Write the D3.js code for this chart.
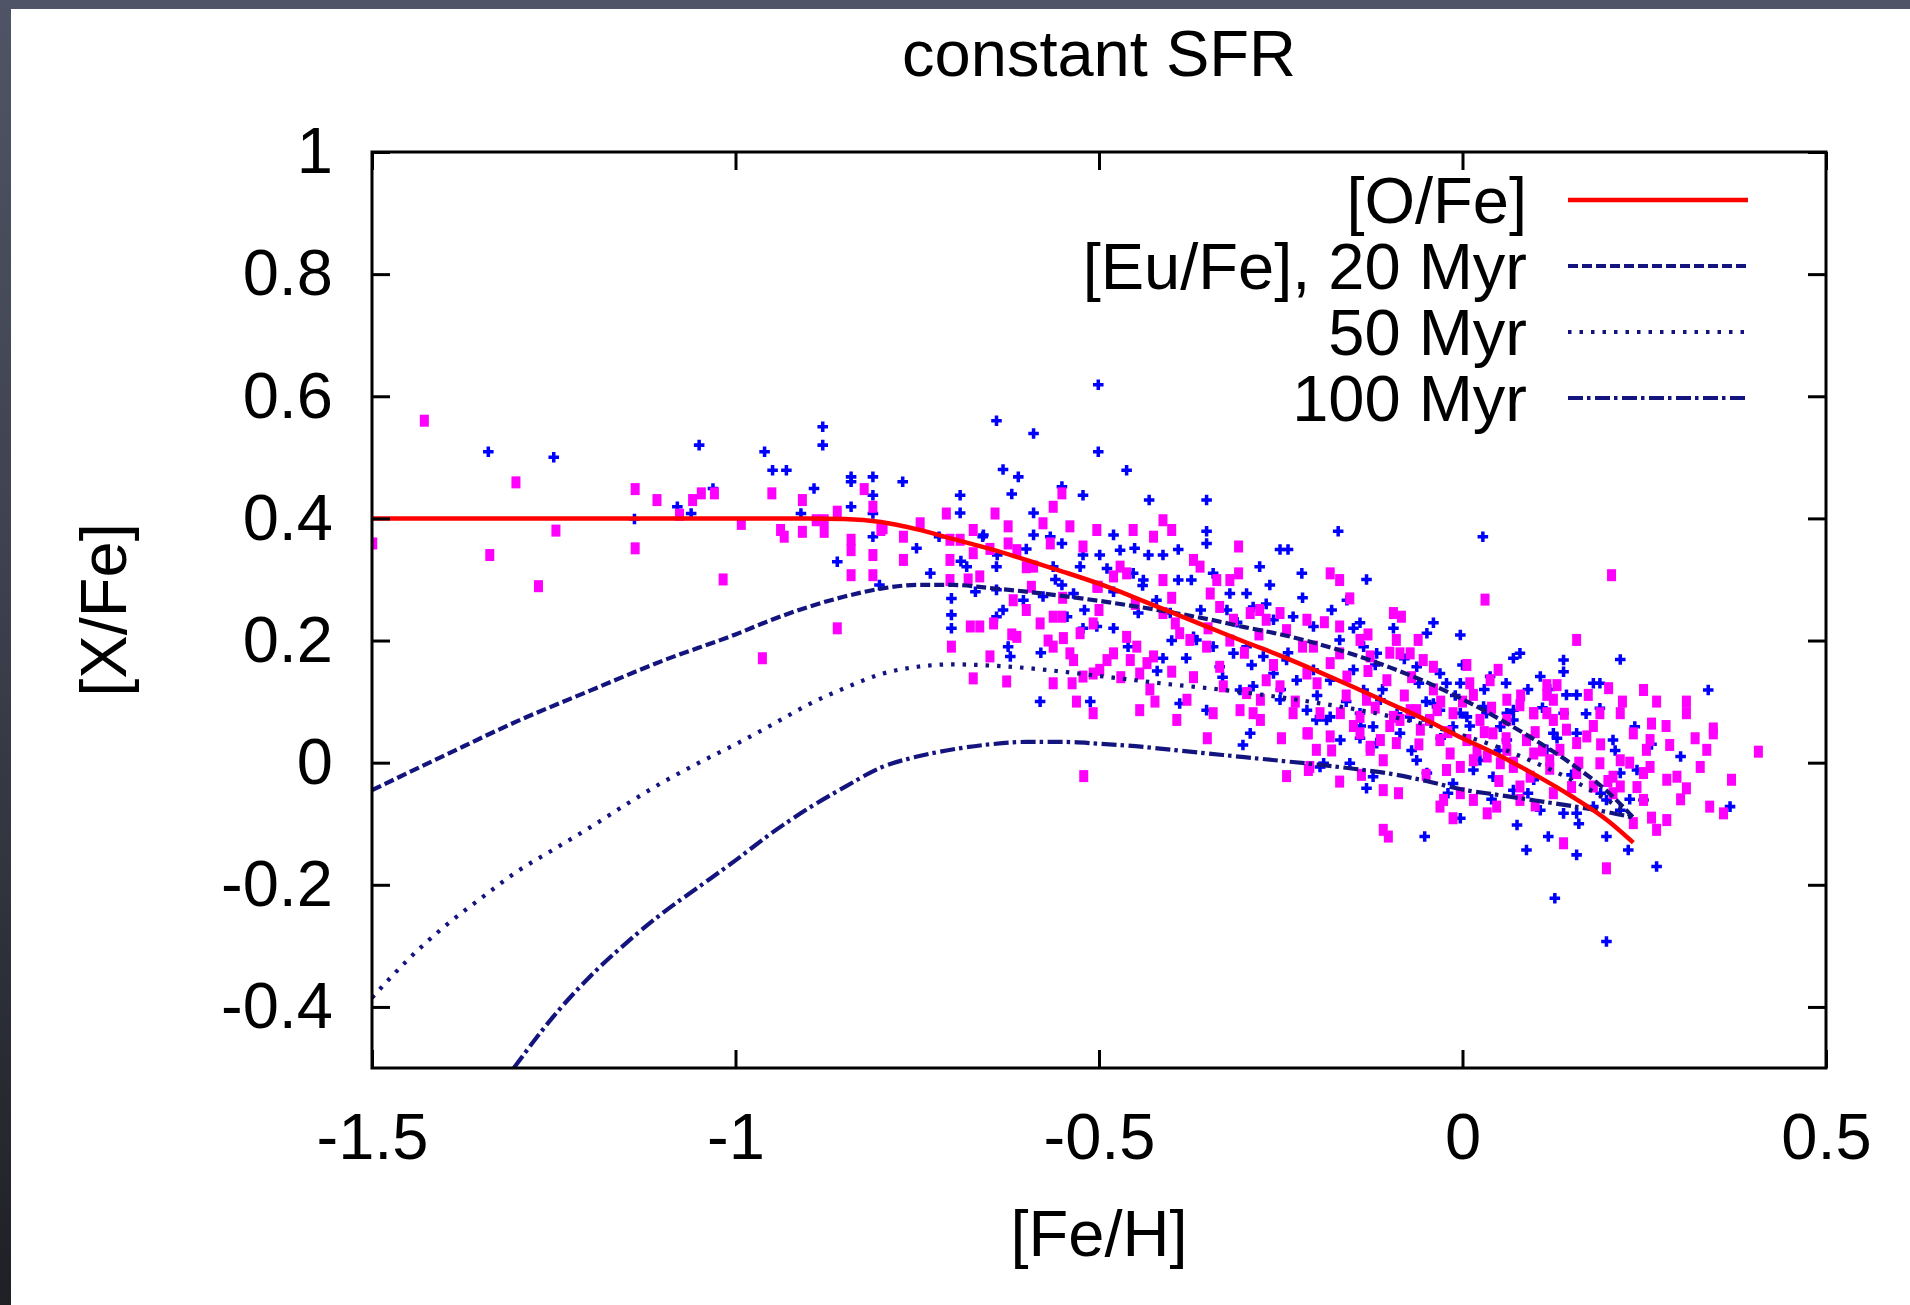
<!DOCTYPE html>
<html>
<head>
<meta charset="utf-8">
<script src="https://cdn.jsdelivr.net/npm/d3@7"></script>
<style>
  html, body { margin: 0; padding: 0; background: #2a2c33; }
  svg { display: block; }
  text { font-family: "Liberation Sans", Arial, Helvetica, sans-serif; fill: #000; }
</style>
</head>
<body>
<svg id="chart" width="1910" height="1305"></svg>
<script>
// ---- model tracks: [Fe/H] grid and [X/Fe] values ----
const oFeX = [-1.5,-1.0,-0.9,-0.85,-0.8,-0.75,-0.7,-0.65,-0.6,-0.55,-0.5,-0.45,-0.4,-0.35,-0.3,-0.25,-0.2,-0.15,-0.1,-0.05,0,0.05,0.1,0.15,0.2,0.235];
const oFeY = [0.40,0.40,0.40,0.399,0.394,0.382,0.366,0.350,0.332,0.313,0.293,0.270,0.246,0.222,0.198,0.175,0.150,0.124,0.097,0.070,0.040,0.012,-0.020,-0.055,-0.095,-0.131];

const eu20X = [-1.5,-1.4,-1.3,-1.2,-1.1,-1.0,-0.95,-0.9,-0.85,-0.8,-0.75,-0.7,-0.65,-0.6,-0.55,-0.5,-0.45,-0.4,-0.35,-0.3,-0.25,-0.2,-0.15,-0.1,-0.05,0,0.05,0.1,0.15,0.2,0.235];
const eu20Y = [-0.045,0.012,0.068,0.118,0.167,0.21,0.234,0.255,0.272,0.285,0.291,0.291,0.286,0.280,0.273,0.265,0.256,0.246,0.235,0.222,0.210,0.195,0.177,0.156,0.132,0.104,0.072,0.037,-0.002,-0.048,-0.090];

const eu50X = [-1.5,-1.45,-1.4,-1.35,-1.3,-1.25,-1.2,-1.15,-1.1,-1.05,-1.0,-0.95,-0.9,-0.85,-0.8,-0.75,-0.7,-0.65,-0.6,-0.55,-0.5,-0.45,-0.4,-0.35,-0.3,-0.25,-0.2,-0.15,-0.1,-0.05,0,0.05,0.1,0.15,0.2,0.235];
const eu50Y = [-0.385,-0.322,-0.268,-0.222,-0.178,-0.142,-0.106,-0.068,-0.032,0.0,0.03,0.062,0.095,0.122,0.145,0.157,0.161,0.159,0.155,0.149,0.142,0.135,0.128,0.122,0.115,0.107,0.098,0.088,0.076,0.062,0.045,0.025,0.0,-0.028,-0.062,-0.090];

const eu100X = [-1.305,-1.25,-1.2,-1.15,-1.1,-1.05,-1.0,-0.95,-0.9,-0.85,-0.8,-0.75,-0.7,-0.65,-0.6,-0.55,-0.5,-0.45,-0.4,-0.35,-0.3,-0.25,-0.2,-0.15,-0.1,-0.05,0,0.05,0.1,0.15,0.2,0.235];
const eu100Y = [-0.5,-0.415,-0.35,-0.295,-0.246,-0.203,-0.16,-0.115,-0.075,-0.04,-0.008,0.01,0.022,0.03,0.034,0.034,0.031,0.027,0.021,0.015,0.009,0.003,-0.003,-0.01,-0.018,-0.03,-0.044,-0.053,-0.062,-0.071,-0.081,-0.090];

// ---- observed stars: [Fe/H], [X/Fe] ----
const magentaStars = [
  [-1.499,0.359],[-1.428,0.560],[-1.302,0.459],[-1.338,0.340],[-1.271,0.289],[-1.247,0.380],[-1.138,0.448],[-1.138,0.351],
  [-1.108,0.430],[-1.059,0.430],[-1.047,0.441],[-1.029,0.441],[-1.077,0.406],[-0.992,0.391],[-1.017,0.300],[-0.950,0.441],
  [-0.938,0.381],[-0.933,0.370],[-0.908,0.430],[-0.908,0.378],[-0.889,0.397],[-0.878,0.397],[-0.878,0.378],[-0.860,0.411],
  [-0.841,0.365],[-0.841,0.348],[-0.841,0.307],[-0.823,0.448],[-0.811,0.419],[-0.811,0.340],[-0.811,0.307],[-0.800,0.381],
  [-0.860,0.220],[-0.963,0.171],
  [-0.563,0.419],[-0.551,0.441],[-0.710,0.408],[-0.643,0.408],[-0.797,0.384],[-0.769,0.370],[-0.769,0.332],[-0.746,0.392],
  [-0.705,0.365],[-0.705,0.332],[-0.705,0.299],[-0.691,0.365],[-0.673,0.381],[-0.673,0.343],[-0.664,0.305],[-0.625,0.387],
  [-0.625,0.359],[-0.613,0.348],[-0.590,0.321],[-0.577,0.392],[-0.567,0.359],[-0.540,0.387],[-0.522,0.354],[-0.503,0.381],
  [-0.503,0.288],[-0.480,0.305],[-0.471,0.321],[-0.462,0.310],[-0.453,0.381],[-0.425,0.370],[-0.412,0.397],[-0.400,0.381],
  [-0.412,0.299],[-0.370,0.332],[-0.361,0.321],[-0.308,0.354],[-0.308,0.310],[-0.320,0.299],[-0.182,0.310],[-0.169,0.299],
  [-0.155,0.269],[-0.618,0.266],[-0.600,0.250],[-0.593,0.288],[-0.677,0.223],[-0.664,0.223],[-0.645,0.228],[-0.581,0.228],
  [-0.563,0.239],[-0.551,0.239],[-0.526,0.212],[-0.508,0.228],[-0.501,0.288],[-0.703,0.190],[-0.650,0.174],[-0.613,0.206],
  [-0.563,0.190],[-0.549,0.204],[-0.540,0.179],[-0.535,0.168],[-0.480,0.179],[-0.489,0.168],[-0.462,0.206],[-0.457,0.168],
  [-0.448,0.190],[-0.434,0.163],[-0.425,0.174],[-0.444,0.146],[-0.499,0.152],[-0.522,0.141],[-0.508,0.146],[-0.400,0.149],
  [-0.395,0.228],[-0.412,0.245],[-0.389,0.212],[-0.375,0.201],[-0.347,0.277],[-0.338,0.299],[-0.334,0.255],[-0.315,0.234],
  [-0.292,0.245],[-0.279,0.250],[-0.270,0.234],[-0.251,0.245],[-0.242,0.217],[-0.214,0.234],[-0.205,0.190],[-0.169,0.223],
  [-0.169,0.179],[-0.141,0.201],[-0.127,0.174],[-0.095,0.245],[-0.104,0.135],[-0.132,0.103],[-0.334,0.157],[-0.352,0.190],
  [-0.329,0.125],[-0.297,0.114],[-0.270,0.135],[-0.251,0.125],[-0.214,0.146],[-0.182,0.163],[-0.159,0.141],[-0.233,0.081],
  [-0.196,0.081],[-0.278,0.070],[-0.141,0.075],[-0.095,0.075],[-0.673,0.138],[-0.627,0.133],[-0.563,0.130],[-0.537,0.130],
  [-0.531,0.100],[-0.508,0.081],[-0.444,0.086],[-0.423,0.100],[-0.393,0.070],[-0.379,0.103],[-0.343,0.081],[-0.306,0.086],
  [-0.288,0.081],[-0.278,0.103],
  [0.031,0.267],[0.205,0.307],[0.157,0.201],[-0.084,0.239],[-0.091,0.201],[-0.061,0.201],[-0.086,0.179],[-0.072,0.179],
  [-0.054,0.168],[-0.040,0.157],[0.006,0.160],[0.049,0.152],[0.038,0.135],[0.116,0.127],[0.130,0.127],[0.116,0.111],
  [0.125,0.103],[0.173,0.111],[0.201,0.122],[0.249,0.119],[0.267,0.100],[0.308,0.100],[0.308,0.081],[0.217,0.081],
  [0.015,0.111],[0.061,0.103],[0.079,0.094],[0.098,0.081],[0.116,0.081],[0.189,0.081],[0.345,0.056],[0.260,0.064],
  [-0.035,0.086],[-0.013,0.081],[-0.063,0.086],
  [-0.521,-0.022],[-0.351,0.040],[-0.249,0.040],[-0.212,0.048],[-0.201,0.021],[-0.212,-0.012],[-0.242,-0.022],[-0.169,-0.031],
  [-0.139,-0.020],[-0.109,-0.045],[-0.109,-0.110],[-0.102,-0.121],[-0.127,0.021],[-0.113,0.037],[-0.182,0.043],[-0.088,-0.050],
  [-0.026,-0.061],[-0.031,-0.072],[-0.013,-0.091],[-0.003,-0.050],[0.015,-0.061],[0.034,-0.083],[0.047,-0.072],[-0.022,-0.012],
  [-0.003,-0.007],[0.015,0.004],[0.034,0.010],[0.052,-0.001],[0.070,-0.007],[0.079,-0.061],[0.079,-0.039],[0.093,-0.023],
  [0.061,0.021],[0.088,0.037],[0.098,0.015],[0.120,0.004],[0.134,0.021],[0.157,0.032],[0.171,0.043],[0.139,-0.132],
  [0.198,-0.173],[0.189,-0.001],[0.207,-0.023],[0.217,0.004],[0.217,-0.039],[0.235,-0.099],[0.249,-0.061],[0.249,-0.017],
  [0.258,-0.007],[0.258,0.037],[0.267,-0.110],[0.281,-0.094],[0.281,-0.028],[0.295,-0.023],[0.308,-0.042],[0.285,0.029],
  [0.327,-0.007],[0.336,0.021],[0.345,0.048],[0.340,-0.072],[0.359,-0.083],[0.370,-0.028],[0.407,0.018],[0.235,0.048],
  [0.253,0.021],[0.207,-0.050],[0.180,-0.039],[0.157,-0.017],[0.125,-0.050],
  [-0.214,0.048],[-0.168,0.081],[-0.141,0.048],[-0.127,0.026],[-0.109,0.004],[-0.091,0.032],[-0.086,0.070],[-0.072,0.086],
  [-0.058,0.054],[-0.045,0.070],[-0.031,0.037],[-0.017,0.015],[0.006,0.037],[0.024,0.070],[0.042,0.048],[0.061,0.070],
  [0.098,0.081],[0.125,0.070],[0.143,0.054],[-0.210,-0.007],
  [-0.15,0.06],[-0.12,0.09],[-0.10,0.06],[-0.08,0.11],[-0.06,0.03],[-0.04,0.12],[-0.02,0.05],[0.00,0.10],
  [0.02,0.02],[0.04,0.09],[0.06,0.04],[0.08,0.11],[0.10,0.05],[0.12,-0.01],[0.14,0.08],[0.16,0.00],
  [0.18,0.06],[0.20,-0.03],[0.22,0.10],[0.24,-0.04],[0.10,-0.07],[0.05,-0.03],[-0.05,-0.02],[-0.18,0.02],
  [-0.23,0.10],[-0.20,0.13],[-0.16,0.11],[-0.13,0.15],[-0.26,0.16],[-0.30,0.18],[-0.35,0.22],[-0.40,0.27],
  [-0.45,0.26],[-0.50,0.25],[-0.55,0.27],[-0.60,0.32],[-0.65,0.35],[-0.68,0.30],[-0.62,0.21],[-0.57,0.20],
  [-0.47,0.14],[-0.43,0.12],[-0.37,0.14],[-0.32,0.20],[-0.28,0.21],[-0.22,0.19],[-0.19,0.23],[-0.13,0.21],
  [-0.10,0.18],[-0.07,0.14],[-0.03,0.10],[0.01,0.13],[0.03,0.05],[0.07,0.00],[0.11,0.02],[0.15,-0.04],
  [0.19,0.03],[0.23,0.00],[0.28,0.06],[0.30,-0.06],[0.32,0.04],[0.26,-0.09]
];

const blueStars = [
  [-1.340,0.509],[-1.250,0.500],[-1.050,0.520],[-1.031,0.449],[-1.080,0.419],[-1.061,0.408],[-1.139,0.399],[-0.960,0.509],
  [-0.949,0.479],[-0.930,0.479],[-0.910,0.408],[-0.892,0.449],[-0.880,0.550],[-0.880,0.520],[-0.841,0.468],[-0.841,0.460],
  [-0.841,0.419],[-0.811,0.468],[-0.811,0.438],[-0.811,0.408],[-0.811,0.370],[-0.860,0.329],[-0.802,0.291],
  [-0.501,0.619],[-0.641,0.560],[-0.590,0.539],[-0.501,0.509],[-0.632,0.480],[-0.611,0.468],[-0.462,0.479],[-0.770,0.460],
  [-0.691,0.438],[-0.620,0.440],[-0.551,0.452],[-0.522,0.438],[-0.431,0.430],[-0.352,0.430],[-0.691,0.409],[-0.590,0.409],
  [-0.171,0.379],[-0.352,0.379],[-0.352,0.359],[-0.251,0.349],[-0.240,0.349],[-0.391,0.349],[-0.221,0.310],[-0.132,0.300],
  [-0.141,0.229],[-0.095,0.220],[-0.581,0.100],[-0.512,0.100],[-0.703,0.269],[-0.703,0.242],[-0.703,0.220],[-0.751,0.351],
  [-0.732,0.310],[-0.659,0.373],[-0.590,0.373],[-0.567,0.370],[-0.551,0.359],[-0.480,0.373],[-0.471,0.348],[-0.522,0.340],
  [-0.499,0.340],[-0.451,0.351],[-0.432,0.340],[-0.412,0.340],[-0.682,0.321],[-0.641,0.321],[-0.563,0.321],[-0.526,0.321],
  [-0.489,0.318],[-0.453,0.310],[-0.439,0.299],[-0.551,0.291],[-0.670,0.280],[-0.641,0.283],[-0.604,0.266],[-0.577,0.272],
  [-0.535,0.277],[-0.641,0.239],[-0.632,0.250],[-0.544,0.239],[-0.522,0.220],[-0.503,0.223],[-0.480,0.220],[-0.618,0.209],
  [-0.625,0.190],[-0.622,0.174],[-0.412,0.171],[-0.380,0.171],[-0.370,0.206],[-0.391,0.299],[-0.373,0.299],[-0.343,0.310],
  [-0.320,0.277],[-0.324,0.250],[-0.279,0.321],[-0.265,0.291],[-0.297,0.277],[-0.288,0.255],[-0.260,0.234],[-0.233,0.239],
  [-0.205,0.223],[-0.159,0.266],[-0.169,0.201],[-0.136,0.190],[-0.118,0.179],[-0.343,0.190],[-0.315,0.179],[-0.297,0.190],
  [-0.274,0.174],[-0.242,0.168],[-0.260,0.146],[-0.228,0.135],[-0.205,0.152],[-0.182,0.135],[-0.150,0.152],[-0.136,0.119],
  [-0.113,0.103],[-0.306,0.119],[-0.288,0.125],[-0.251,0.103],[-0.214,0.086],[-0.187,0.070],[-0.352,0.086],[-0.389,0.097],
  [-0.334,0.157],[-0.366,0.201],[-0.446,0.245],[-0.421,0.266],[-0.402,0.245],
  [0.028,0.370],[-0.003,0.209],[-0.040,0.229],[0.070,0.171],[0.079,0.179],[0.139,0.168],[0.139,0.149],[0.107,0.141],
  [0.217,0.169],[0.189,0.130],[0.338,0.119],[0.038,0.141],[0.143,0.111],[0.157,0.111],[0.189,0.089],[0.139,0.081],
  [-0.022,0.130],[-0.003,0.130],[-0.049,0.212],[-0.031,0.146],[-0.063,0.157],[-0.040,0.097],[0.029,0.092],[0.061,0.081],
  [-0.003,0.081],[-0.072,0.075],
  [-0.302,0.029],[-0.292,0.048],[-0.132,-0.042],[-0.141,0.040],[-0.123,-0.023],[-0.191,-0.001],
  [-0.052,-0.121],[-0.003,-0.091],[0.075,-0.102],[0.088,-0.143],[0.118,-0.121],[0.127,-0.222],[0.157,-0.151],[0.198,-0.121],
  [0.198,-0.293],[0.228,-0.143],[0.267,-0.170],[0.249,-0.061],[0.240,-0.012],[0.368,-0.072],[0.107,-0.078],[0.139,-0.083],
  [0.157,-0.083],[0.098,-0.028],[0.070,-0.045],[0.042,-0.023],[0.015,-0.012],[-0.013,-0.034],[0.180,-0.072],[0.198,-0.061],
  [0.217,-0.078],[0.217,-0.017],[0.207,0.037],[0.157,0.048],[0.125,0.048],[0.061,0.037],[0.024,0.004],[0.116,0.021],
  [0.237,0.059],
  [-0.201,0.070],[-0.182,0.075],[-0.141,0.081],[-0.123,0.059],[-0.086,0.048],[-0.068,0.081],[-0.049,0.070],[-0.031,0.086],
  [-0.013,0.059],[0.006,0.075],[0.033,0.081],[0.052,0.059],[0.070,0.086],[-0.196,-0.007],[-0.155,-0.001],[-0.063,0.004],
  [-0.049,-0.017],[-0.118,0.032],[-0.168,0.037],
  [-0.16,0.10],[-0.14,0.06],[-0.11,0.12],[-0.09,0.08],[-0.07,0.02],[-0.05,0.10],[-0.03,0.04],[-0.01,0.11],
  [0.01,0.06],[0.03,0.12],[0.05,0.02],[0.07,0.07],[0.09,0.12],[0.11,0.09],[0.13,0.04],[0.15,-0.02],
  [0.17,0.08],[0.19,-0.05],[0.21,0.02],[0.23,-0.06],[0.09,-0.05],[0.04,-0.06],[-0.02,-0.05],[-0.20,0.11],
  [-0.24,0.18],[-0.27,0.26],[-0.31,0.23],[-0.36,0.25],[-0.40,0.20],[-0.44,0.29],[-0.48,0.28],[-0.52,0.25],
  [-0.56,0.30],[-0.60,0.35],[-0.64,0.34],[-0.66,0.37],[-0.69,0.33],[-0.72,0.37],[-0.58,0.18],[-0.46,0.19],
  [-0.42,0.15],[-0.33,0.14],[-0.29,0.16],[-0.25,0.12],[-0.22,0.27],[-0.18,0.25],[-0.15,0.22],[-0.12,0.16],
  [-0.08,0.17],[-0.06,0.13],[0.00,0.16],[0.06,0.13],[0.12,0.12],[0.18,0.13],[0.26,0.03],[0.30,0.01],[0.16,-0.10]
];

// ---- labels ----
const titleText = "constant SFR";
const xLabel = "[Fe/H]";
const yLabel = "[X/Fe]";
const xTicks = [-1.5, -1, -0.5, 0, 0.5];
const yTicks = [-0.4, -0.2, 0, 0.2, 0.4, 0.6, 0.8, 1];
const legendLabels = ["[O/Fe]", "[Eu/Fe], 20 Myr", "50 Myr", "100 Myr"];

// ---- layout ----
const W = 1910, H = 1305;
const plot = { left: 372, right: 1826, top: 152, bottom: 1068 };
const svg = d3.select("#chart");

const x = d3.scaleLinear().domain([-1.5, 0.5]).range([plot.left, plot.right]);
const y = d3.scaleLinear().domain([-0.5, 1]).range([plot.bottom, plot.top]);

// slide backdrop: dark graded frame with a white page
const defs = svg.append("defs");
const grad = defs.append("linearGradient").attr("id", "backdrop")
  .attr("x1", 0).attr("y1", 0).attr("x2", 0).attr("y2", 1);
grad.append("stop").attr("offset", "0%").attr("stop-color", "#4f5566");
grad.append("stop").attr("offset", "50%").attr("stop-color", "#3b3e4a");
grad.append("stop").attr("offset", "100%").attr("stop-color", "#1f2026");
svg.append("rect").attr("width", W).attr("height", H).attr("fill", "url(#backdrop)");
svg.append("rect").attr("x", 11).attr("y", 9).attr("width", W - 11).attr("height", H - 9).attr("fill", "#fff");

defs.append("clipPath").attr("id", "plotClip").append("rect")
  .attr("x", plot.left).attr("y", plot.top)
  .attr("width", plot.right - plot.left).attr("height", plot.bottom - plot.top);

// ---- stars ----
const pts = svg.append("g").attr("clip-path", "url(#plotClip)");
const cross = d3.symbol().type(d3.symbolCross).size(62);
pts.append("g").selectAll("path").data(blueStars).join("path")
  .attr("d", cross)
  .attr("transform", d => `translate(${x(d[0])},${y(d[1])})`)
  .attr("fill", "#0000ff");
pts.append("g").selectAll("rect").data(magentaStars).join("rect")
  .attr("x", d => x(d[0]) - 4.5).attr("y", d => y(d[1]) - 6)
  .attr("width", 9).attr("height", 12)
  .attr("fill", "#ff00ff");

// ---- model tracks ----
const line = d3.line().x(d => x(d[0])).y(d => y(d[1])).curve(d3.curveMonotoneX);
const zipXY = (xs, ys) => xs.map((v, i) => [v, ys[i]]);
const navy = "#14147f";
const series = [
  { xs: eu20X, ys: eu20Y, color: navy, width: 4.2, dash: "10,4" },
  { xs: eu50X, ys: eu50Y, color: navy, width: 4.2, dash: "3.5,8" },
  { xs: eu100X, ys: eu100Y, color: navy, width: 4.2, dash: "15,4,3.5,4.5" },
  { xs: oFeX, ys: oFeY, color: "#ff0000", width: 4.5, dash: null }
];
const lines = svg.append("g").attr("clip-path", "url(#plotClip)");
series.forEach(s => {
  lines.append("path")
    .attr("d", line(zipXY(s.xs, s.ys)))
    .attr("fill", "none")
    .attr("stroke", s.color)
    .attr("stroke-width", s.width)
    .attr("stroke-dasharray", s.dash);
});

// ---- axes (inward ticks, mirrored on top/right) ----
const tick = 18;
const fontSize = 65;
const axes = svg.append("g");
const styleAxis = g => {
  g.select(".domain").remove();
  g.selectAll(".tick line").attr("stroke", "#000").attr("stroke-width", 3);
  g.selectAll("text").attr("font-size", fontSize).attr("fill", "#000")
    .attr("font-family", '"Liberation Sans", Arial, sans-serif');
};
axes.append("g").attr("transform", `translate(0,${plot.bottom})`)
  .call(d3.axisBottom(x).tickValues(xTicks).tickSizeInner(-tick).tickSizeOuter(0).tickPadding(45)
    .tickFormat(d => String(d)))
  .call(styleAxis);
axes.append("g").attr("transform", `translate(0,${plot.top})`)
  .call(d3.axisTop(x).tickValues(xTicks).tickSizeInner(-tick).tickSizeOuter(0).tickFormat(""))
  .call(styleAxis);
axes.append("g").attr("transform", `translate(${plot.left},0)`)
  .call(d3.axisLeft(y).tickValues(yTicks).tickSizeInner(-tick).tickSizeOuter(0).tickPadding(39)
    .tickFormat(d => String(d)))
  .call(styleAxis);
axes.append("g").attr("transform", `translate(${plot.right},0)`)
  .call(d3.axisRight(y).tickValues(yTicks).tickSizeInner(-tick).tickSizeOuter(0).tickFormat(""))
  .call(styleAxis);

svg.append("rect")
  .attr("x", plot.left).attr("y", plot.top)
  .attr("width", plot.right - plot.left).attr("height", plot.bottom - plot.top)
  .attr("fill", "none").attr("stroke", "#000").attr("stroke-width", 3);

// ---- titles ----
const cx = (plot.left + plot.right) / 2;
svg.append("text").attr("x", cx).attr("y", 76).attr("text-anchor", "middle")
  .attr("font-size", fontSize).text(titleText);
svg.append("text").attr("x", cx).attr("y", 1256).attr("text-anchor", "middle")
  .attr("font-size", fontSize).text(xLabel);
svg.append("text").attr("transform", `translate(126,${(plot.top + plot.bottom) / 2}) rotate(-90)`)
  .attr("text-anchor", "middle").attr("font-size", fontSize).text(yLabel);

// ---- legend ----
const legendX = 1527, sampleX0 = 1568, sampleX1 = 1748;
const legendY0 = 200, legendStep = 66;
const legendOrder = [3, 0, 1, 2];
legendLabels.forEach((label, i) => {
  const s = series[legendOrder[i]];
  const ly = legendY0 + i * legendStep;
  svg.append("text").attr("x", legendX).attr("y", ly).attr("dy", "0.35em")
    .attr("text-anchor", "end").attr("font-size", fontSize).text(label);
  svg.append("line").attr("x1", sampleX0).attr("x2", sampleX1).attr("y1", ly).attr("y2", ly)
    .attr("stroke", s.color).attr("stroke-width", s.width).attr("stroke-dasharray", s.dash);
});
</script>
</body>
</html>
